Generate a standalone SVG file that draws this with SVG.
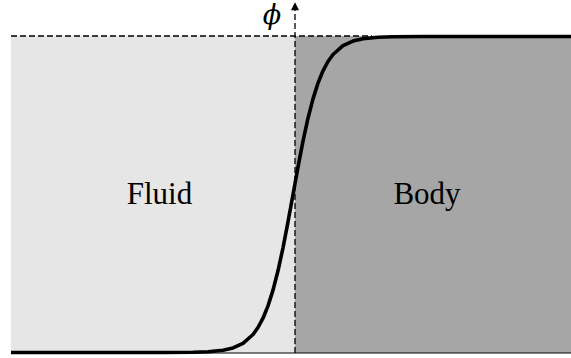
<svg xmlns="http://www.w3.org/2000/svg" width="571" height="358" viewBox="0 0 571 358">
<style>
.lbl{font-family:"Liberation Serif","DejaVu Serif",serif;font-size:31px;fill:#000}
.dash{stroke:#000;stroke-width:1.3;stroke-dasharray:6,3;fill:none}
</style>
<defs>
<marker id="arr" viewBox="0 0 10 10" refX="9" refY="5" markerWidth="9" markerHeight="8" orient="auto" markerUnits="userSpaceOnUse">
<path d="M0,0 L10,5 L0,10 Z" fill="#000"/>
</marker>
</defs>
<rect width="571" height="358" fill="#fff"/>
<g id="fluid">
<rect x="11" y="36" width="284" height="317" fill="#e6e6e6"/>
<text class="lbl" x="159.5" y="204" text-anchor="middle">Fluid</text>
</g>
<g id="body">
<rect x="295" y="36" width="276" height="317" fill="#a6a6a6"/>
<text class="lbl" x="427" y="204" text-anchor="middle">Body</text>
</g>
<g id="connectors">
<line x1="11" y1="353" x2="571" y2="353" stroke="#000" stroke-width="1.2"/>
<line class="dash" x1="11" y1="36" x2="372" y2="36"/>
<line class="dash" x1="295" y1="353" x2="295" y2="3" marker-end="url(#arr)"/>
<polyline fill="none" stroke="#000" stroke-width="3.6" stroke-linejoin="round" points="11,352.5 163,352.5 193,352.2 208,351.7 223,350.2 233,347.9 243,343.3 253,334.5 258,327.5 263,318.2 268,305.9 273,290.1 278,270.8 283,247.8 288,221.9 293,194.5 298,167.1 303,141.2 308,118.2 313,98.9 318,83.1 323,70.8 328,61.5 333,54.5 343,45.7 353,41.1 363,38.8 378,37.3 393,36.8 423,36.5 571,36.5"/>
</g>
<g id="phi">
<text x="272" y="24" font-family="DejaVu Serif, serif" font-style="italic" font-size="27" text-anchor="middle">ϕ</text>
</g>
</svg>
